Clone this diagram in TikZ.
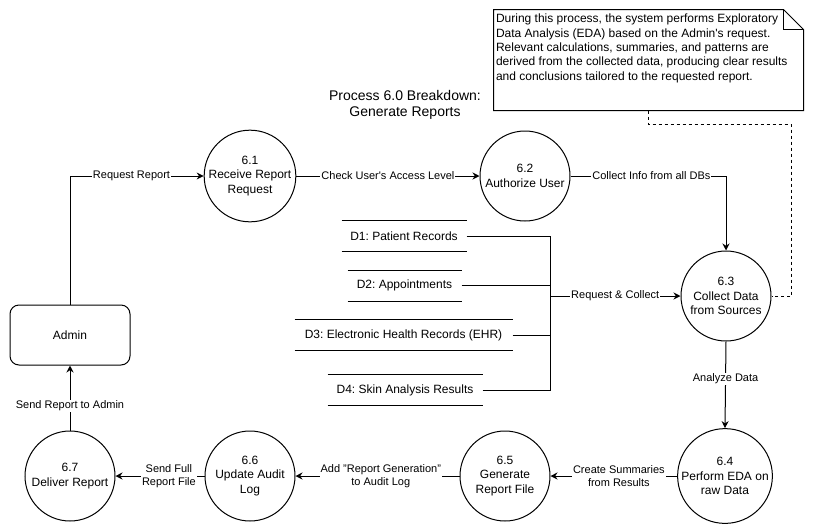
\documentclass[tikz,border=0pt]{standalone}
\usepackage{fontspec}
\setmainfont{Liberation Sans}
\usetikzlibrary{arrows.meta}
\frenchspacing
\begin{document}
\begin{tikzpicture}[x=1pt,y=-1pt,line width=1pt,
		proc/.style={draw,circle,minimum size=90pt,inner sep=0pt,align=center,font=\fontsize{12}{14.4}\selectfont},
		ent/.style={draw,rounded corners=9pt,minimum width=120pt,minimum height=60pt,font=\fontsize{12}{14.4}\selectfont},
		store/.style={minimum height=30pt,inner sep=0pt,font=\fontsize{12}{14.4}\selectfont},
		lbl/.style={fill=white,inner sep=1pt,align=center,font=\fontsize{11}{13}\selectfont},
		arr/.style={-{Stealth[length=7pt,width=7pt]}}]
			\fill[white] (0,0) rectangle (814,531);
			\useasboundingbox (0,0) rectangle (814,531);
			\node[proc] (p1) at (250,176) {6.1\\Receive Report\\Request};
			\node[proc] (p2) at (525,176) {6.2\\Authorize User};
			\node[proc] (p3) at (726,296) {6.3\\Collect Data\\from Sources};
			\node[proc] (p4) at (725,476) {6.4\\Perform EDA on\\raw Data};
			\node[proc] (p5) at (505,476) {6.5\\Generate\\Report File};
			\node[proc] (p6) at (250,476) {6.6\\Update Audit\\Log};
			\node[proc] (p7) at (70,476) {6.7\\Deliver Report};
			\node[ent] (admin) at (70,335) {Admin};
			\node[store,minimum width=124pt] (d1) at (404,236) {D1: Patient Records};
			\node[store,minimum width=113pt] (d2) at (404.5,285.5) {D2: Appointments};
			\node[store,minimum width=217pt] (d3) at (403.5,335) {D3: Electronic Health Records (EHR)};
			\node[store,minimum width=154pt] (d4) at (405,390) {D4: Skin Analysis Results};
			\foreach \s in {d1,d2,d3,d4}
				\draw (\s.north west) -- (\s.north east) (\s.south west) -- (\s.south east);
			\node[align=center,font=\fontsize{14}{16}\selectfont] (title) at (405,105) {Process 6.0 Breakdown:\\Generate Reports};
			\node[minimum width=309pt,minimum height=100pt,inner sep=0pt] (note) at (648.5,60) {};
			\draw (note.north west) -- ([xshift=-20pt]note.north east) -- ([yshift=-20pt]note.north east) -- (note.south east) -- (note.south west) -- cycle;
			\draw ([xshift=-20pt]note.north east) -- ([xshift=-20pt,yshift=-20pt]note.north east) -- ([yshift=-20pt]note.north east);
			\node[anchor=north west,align=left,inner sep=2pt,font=\fontsize{12}{14.4}\selectfont] (notetxt) at ([yshift=-2pt]note.north west) {During this process, the system performs Exploratory\\Data Analysis (EDA) based on the Admin\textquotesingle s request.\\Relevant calculations, summaries, and patterns are\\derived from the collected data, producing clear results\\and conclusions tailored to the requested report.};
			\coordinate (bus) at (550,296);
			\draw[arr] (admin.north) |- node[lbl,pos=0.73] {Request Report} (p1.west);
			\draw[arr] (p1.east) -- node[lbl] {Check User\textquotesingle s Access Level} (p2.west);
			\draw[arr] (p2.east) -| node[lbl,pos=0.26] {Collect Info from all DBs} (p3.north);
			\foreach \s in {d1,d2,d3,d4}
				\draw (\s.east) -| (bus);
			\draw[arr] (bus) -- node[lbl] {Request \& Collect} (p3.west);
			\draw[dashed] (note.south) -- ++(0,14) -| ([xshift=20pt]p3.east) -- (p3.east);
			\draw[arr] (p3.south) -- node[lbl,pos=0.43] {Analyze Data} (p4.north);
			\draw[arr] (p4.west) -- node[lbl,pos=0.46] {Create Summaries\\from Results} (p5.east);
			\draw[arr] (p5.west) -- node[lbl,pos=0.48] {Add "Report Generation"\\to Audit Log} (p6.east);
			\draw[arr] (p6.west) -- node[lbl,pos=0.4] {Send Full\\Report File} (p7.east);
			\draw[arr] (p7.north) -- node[lbl,pos=0.38] {Send Report to Admin} (admin.south);
		\end{tikzpicture}
\end{document}
